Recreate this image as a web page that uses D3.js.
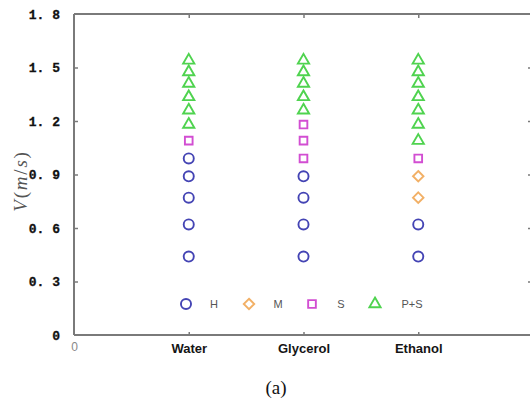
<!DOCTYPE html>
<html><head><meta charset="utf-8">
<script src="https://cdn.jsdelivr.net/npm/d3@7"></script>
<style>body{margin:0;background:#fff}svg{display:block}</style>
</head><body>
<script>
const categories = ["Water", "Glycerol", "Ethanol"];
const seriesNames = ["H", "M", "S", "P+S"];
// values per category per regime
const waterH = [0.44, 0.62, 0.77, 0.89, 0.99];
const waterM = [];
const waterS = [1.09];
const waterPS = [1.18, 1.26, 1.335, 1.41, 1.475, 1.54];
const glycerolH = [0.44, 0.62, 0.77, 0.89];
const glycerolM = [];
const glycerolS = [0.99, 1.09, 1.18];
const glycerolPS = [1.26, 1.335, 1.41, 1.475, 1.54];
const ethanolH = [0.44, 0.62];
const ethanolM = [0.77, 0.89];
const ethanolS = [0.99];
const ethanolPS = [1.09, 1.18, 1.26, 1.335, 1.41, 1.475, 1.54];
const yTicks = [0, 0.3, 0.6, 0.9, 1.2, 1.5, 1.8];
const yTickLabels = ["0", "0. 3", "0. 6", "0. 9", "1. 2", "1. 5", "1. 8"];

const table = {
  Water: [waterH, waterM, waterS, waterPS],
  Glycerol: [glycerolH, glycerolM, glycerolS, glycerolPS],
  Ethanol: [ethanolH, ethanolM, ethanolS, ethanolPS]
};
const colors = ["#4444b4", "#f2b066", "#d24ed2", "#4fd34f"];
const symbols = [d3.symbolCircle, d3.symbolDiamond2, d3.symbolSquare2, d3.symbolTriangle2];
const sizes = [80, 70, 75, 90];

const W = 530, H = 404;
const svg = d3.select("body").append("svg").attr("width", W).attr("height", H);
const x = d3.scaleLinear().domain([0, 4]).range([74, 533]);
const y = d3.scaleLinear().domain([0, 1.8]).range([335, 14]);
const axisColor = "#7a7a7a";

// frame lines
const frame = svg.append("g").attr("stroke", axisColor).attr("stroke-width", 2);
frame.append("line").attr("x1", x(0)).attr("x2", x(4)).attr("y1", y(0)).attr("y2", y(0));
frame.append("line").attr("x1", x(0)).attr("x2", x(4)).attr("y1", y(1.8)).attr("y2", y(1.8));
frame.append("line").attr("x1", x(0)).attr("x2", x(0)).attr("y1", y(0)).attr("y2", y(1.8));

// left ticks + labels
const yAxis = d3.axisLeft(y).tickValues(yTicks).tickSizeInner(-4).tickSizeOuter(0)
  .tickFormat((d, i) => yTickLabels[i]).tickPadding(14);
const gy = svg.append("g").attr("transform", `translate(${x(0)},0)`).call(yAxis);
gy.select(".domain").remove();
gy.selectAll(".tick line").attr("stroke", axisColor).attr("stroke-width", 1.5);
gy.selectAll(".tick text").attr("font-family", "Liberation Mono, monospace").attr("font-weight", "bold")
  .attr("font-size", 13).attr("fill", "#111").attr("stroke", "#111").attr("stroke-width", 0.3);
gy.selectAll(".tick").filter(d => d === 0 || d === 1.8).select("line").remove();

// right ticks
const gr = svg.append("g").attr("transform", `translate(${x(4)},0)`)
  .call(d3.axisRight(y).tickValues(yTicks.filter(d => d > 0 && d < 1.8)).tickSizeInner(-5).tickSizeOuter(0).tickFormat(""));
gr.select(".domain").remove();
gr.selectAll(".tick line").attr("stroke", axisColor).attr("stroke-width", 1.5);

// bottom axis
const xAxis = d3.axisBottom(x).tickValues([0, 1, 2, 3]).tickSizeInner(-3).tickSizeOuter(0)
  .tickFormat(d => d === 0 ? "0" : categories[d - 1]).tickPadding(9);
const gx = svg.append("g").attr("transform", `translate(0,${y(0)})`).call(xAxis);
gx.select(".domain").remove();
gx.selectAll(".tick line").attr("stroke", axisColor).attr("stroke-width", 1.5);
gx.selectAll(".tick text").attr("font-family", "Liberation Sans, Arial, sans-serif")
  .attr("font-size", 13).attr("font-weight", "bold").attr("fill", "#151515");
gx.selectAll(".tick").filter(d => d === 0).select("text")
  .attr("fill", "#888").attr("font-weight", "normal").attr("font-size", 12).attr("dy", "0.6em");
gx.selectAll(".tick").filter(d => d === 0).select("line").remove();

// top ticks
const gt = svg.append("g").attr("transform", `translate(0,${y(1.8)})`)
  .call(d3.axisTop(x).tickValues([1, 2, 3]).tickSizeInner(-4).tickSizeOuter(0).tickFormat(""));
gt.select(".domain").remove();
gt.selectAll(".tick line").attr("stroke", axisColor).attr("stroke-width", 1.5);

// points
const pts = [];
categories.forEach((c, ci) => {
  table[c].forEach((vals, si) => vals.forEach(v => pts.push({ cx: ci + 1, v, s: si })));
});
svg.append("g").selectAll("path").data(pts).join("path")
  .attr("transform", d => `translate(${x(d.cx)},${y(d.v)})`)
  .attr("d", d => d3.symbol(symbols[d.s], sizes[d.s])())
  .attr("fill", "none").attr("stroke", d => colors[d.s]).attr("stroke-width", 1.9);

// legend
const legendMarkX = [186, 249, 312, 375];
const legendTextX = [214, 278, 341, 412];
const lg = svg.append("g");
seriesNames.forEach((n, i) => {
  lg.append("path").attr("transform", `translate(${legendMarkX[i]},304)`)
    .attr("d", d3.symbol(symbols[i], sizes[i])()).attr("fill", "none")
    .attr("stroke", colors[i]).attr("stroke-width", 1.9);
  lg.append("text").attr("x", legendTextX[i]).attr("y", 308).attr("text-anchor", "middle")
    .attr("font-family", "Liberation Sans, Arial, sans-serif").attr("font-size", 11).attr("fill", "#555").text(n);
});

// y label
const yl = svg.append("text").attr("transform", "translate(27,181) rotate(-90)")
  .attr("text-anchor", "middle").attr("font-family", "Liberation Serif, serif")
  .attr("font-size", 19).attr("letter-spacing", 1.8).attr("fill", "#555");
yl.append("tspan").attr("font-style", "italic").text("V");
yl.append("tspan").text("(");
yl.append("tspan").attr("font-style", "italic").text("m");
yl.append("tspan").text("/");
yl.append("tspan").attr("font-style", "italic").text("s");
yl.append("tspan").text(")");

// caption
svg.append("text").attr("x", 276).attr("y", 394).attr("text-anchor", "middle")
  .attr("font-family", "Liberation Serif, serif").attr("font-size", 19).attr("fill", "#111").text("(a)");
</script>
</body></html>
